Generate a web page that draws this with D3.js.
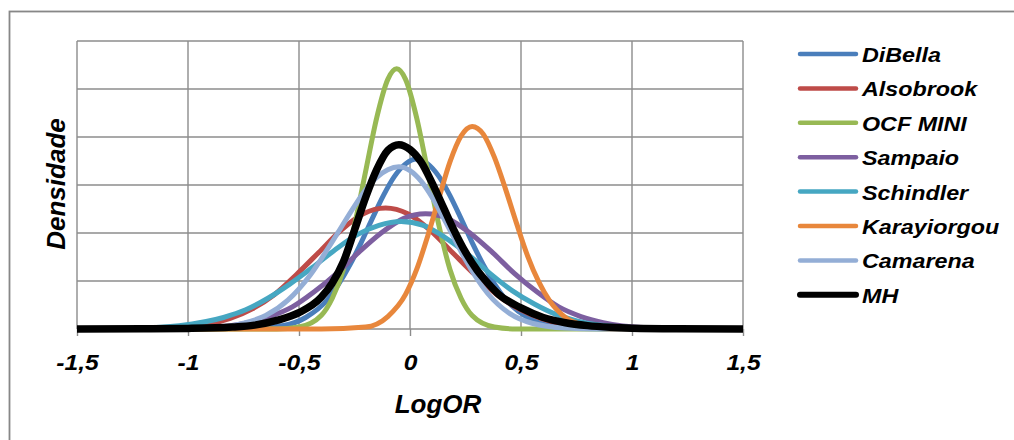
<!DOCTYPE html>
<html>
<head>
<meta charset="utf-8">
<script src="https://cdn.jsdelivr.net/npm/d3@7"></script>
<style>
  body { margin: 0; background: #fff; }
  svg text {
    font-family: "Liberation Sans", Arial, sans-serif;
    font-weight: bold;
    font-style: italic;
    fill: #000;
  }
</style>
</head>
<body>
<svg id="chart" width="1014" height="440"></svg>
<script>
// study names (legend order)
const studies = ["DiBella", "Alsobrook", "OCF MINI", "Sampaio", "Schindler", "Karayiorgou", "Camarena", "MH"];

// density curves: [logOR, density]
const diBella = [[-1.5,0],[-0.9,0],[-0.72,0.004],[-0.57,0.036],[-0.47,0.12],[-0.37,0.31],[-0.27,0.67],[-0.22,0.9],[-0.17,1.15],[-0.12,1.39],[-0.07,1.59],[-0.02,1.72],[0.03,1.77],[0.08,1.72],[0.13,1.59],[0.18,1.39],[0.23,1.15],[0.28,0.9],[0.33,0.67],[0.43,0.31],[0.53,0.12],[0.63,0.036],[0.78,0.004],[0.95,0],[1.5,0]];
const alsobrook = [[-1.5,0],[-1.31,0.001],[-1.11,0.01],[-0.91,0.05],[-0.81,0.11],[-0.71,0.21],[-0.61,0.36],[-0.51,0.57],[-0.41,0.8],[-0.31,1.03],[-0.21,1.2],[-0.11,1.26],[-0.01,1.2],[0.09,1.03],[0.19,0.8],[0.29,0.57],[0.39,0.36],[0.49,0.21],[0.59,0.11],[0.69,0.05],[0.89,0.01],[1.09,0.001],[1.5,0]];
const ocfMini = [[-1.5,0],[-0.6,0],[-0.5,0.02],[-0.4,0.14],[-0.35,0.32],[-0.3,0.62],[-0.25,1.08],[-0.2,1.64],[-0.15,2.2],[-0.1,2.6],[-0.06,2.71],[-0.02,2.6],[0.03,2.2],[0.08,1.64],[0.13,1.08],[0.18,0.62],[0.23,0.32],[0.28,0.14],[0.38,0.02],[0.48,0],[1.5,0]];
const sampaio = [[-1.5,0],[-1.13,0.002],[-0.93,0.013],[-0.73,0.066],[-0.63,0.13],[-0.53,0.23],[-0.43,0.39],[-0.33,0.58],[-0.23,0.8],[-0.13,1.0],[-0.03,1.15],[0.07,1.2],[0.17,1.15],[0.27,1.0],[0.37,0.8],[0.47,0.58],[0.57,0.39],[0.67,0.23],[0.77,0.13],[0.87,0.066],[1.07,0.013],[1.27,0.002],[1.5,0]];
const schindler = [[-1.5,0],[-1.24,0.008],[-1.04,0.035],[-0.84,0.12],[-0.74,0.2],[-0.64,0.32],[-0.54,0.47],[-0.44,0.64],[-0.34,0.82],[-0.24,0.98],[-0.14,1.08],[-0.04,1.12],[0.06,1.08],[0.16,0.95],[0.26,0.78],[0.36,0.58],[0.46,0.4],[0.56,0.26],[0.66,0.15],[0.76,0.08],[0.96,0.02],[1.16,0.003],[1.5,0]];
const karayiorgou = [[-1.5,0],[-0.4,0],[-0.2,0.02],[-0.1,0.13],[-0.02,0.36],[0.03,0.62],[0.08,0.97],[0.13,1.36],[0.18,1.74],[0.23,2.01],[0.28,2.11],[0.33,2.03],[0.38,1.79],[0.43,1.46],[0.48,1.1],[0.53,0.76],[0.58,0.49],[0.63,0.29],[0.7,0.12],[0.8,0.03],[0.9,0],[1.5,0]];
const camarena = [[-1.5,0],[-0.9,0.01],[-0.75,0.06],[-0.65,0.14],[-0.55,0.3],[-0.45,0.56],[-0.35,0.91],[-0.25,1.28],[-0.2,1.45],[-0.15,1.58],[-0.1,1.66],[-0.05,1.69],[0,1.65],[0.05,1.54],[0.1,1.37],[0.15,1.16],[0.2,0.94],[0.25,0.72],[0.35,0.37],[0.45,0.16],[0.55,0.06],[0.7,0.01],[0.85,0],[1.5,0]];
const mh = [[-1.5,0],[-1.2,0.002],[-1.0,0.006],[-0.8,0.02],[-0.7,0.04],[-0.6,0.09],[-0.5,0.17],[-0.4,0.33],[-0.35,0.48],[-0.3,0.7],[-0.25,1.03],[-0.2,1.37],[-0.15,1.66],[-0.1,1.86],[-0.05,1.92],[0,1.87],[0.05,1.74],[0.1,1.52],[0.15,1.27],[0.2,1.02],[0.25,0.8],[0.3,0.62],[0.35,0.48],[0.4,0.36],[0.5,0.22],[0.6,0.12],[0.7,0.065],[0.8,0.035],[0.9,0.018],[1.0,0.008],[1.2,0.002],[1.5,0]];

const curves = [diBella, alsobrook, ocfMini, sampaio, schindler, karayiorgou, camarena, mh];

const xTicks = [-1.5, -1, -0.5, 0, 0.5, 1, 1.5];
const yTicks = [0, 0.5, 1, 1.5, 2, 2.5, 3];
const xTitle = "LogOR";
const yTitle = "Densidade";

// styles
const colors = ["#4a7ebb", "#be4b48", "#98b954", "#7d5fa0", "#46a7c2", "#e8873c", "#94aed6", "#000000"];
const widths = [5, 5, 5, 5, 5, 5, 5, 7.5];
const gridColor = "#8c8c8c";

const plot = { left: 77, top: 41, right: 743, bottom: 329 };

const svg = d3.select("#chart");

// outer chart border
svg.append("rect")
  .attr("x", 9.5)
  .attr("y", 11.5)
  .attr("width", 1020)
  .attr("height", 440)
  .attr("fill", "#fff")
  .attr("stroke", "#878787")
  .attr("stroke-width", 1.8);

const x = d3.scaleLinear().domain([-1.5, 1.5]).range([plot.left, plot.right]);
const y = d3.scaleLinear().domain([0, 3]).range([plot.bottom, plot.top]);

// gridlines
const grid = svg.append("g").attr("class", "grid");
grid.selectAll(".vline")
  .data(xTicks)
  .enter()
  .append("line")
  .attr("x1", (d) => x(d))
  .attr("x2", (d) => x(d))
  .attr("y1", plot.top)
  .attr("y2", plot.bottom)
  .attr("stroke", gridColor)
  .attr("stroke-width", 1.4);
grid.selectAll(".hline")
  .data(yTicks)
  .enter()
  .append("line")
  .attr("x1", plot.left)
  .attr("x2", plot.right)
  .attr("y1", (d) => y(d))
  .attr("y2", (d) => y(d))
  .attr("stroke", gridColor)
  .attr("stroke-width", 1.4);

// x axis
const xAxis = d3.axisBottom(x)
  .tickValues(xTicks)
  .tickSize(7)
  .tickFormat((d) => String(d).replace(".", ","));

const gx = svg.append("g")
  .attr("transform", `translate(0,${plot.bottom})`)
  .call(xAxis);
gx.select(".domain").remove();
gx.selectAll(".tick line").attr("stroke", gridColor).attr("stroke-width", 1.4);
gx.selectAll(".tick text")
  .attr("y", 41)
  .attr("dy", null)
  .attr("font-size", 22)
  .attr("transform", "scale(1.12,1)");

// curves
const line = d3.line()
  .x((d) => x(d[0]))
  .y((d) => y(d[1]))
  .curve(d3.curveMonotoneX);

svg.append("g")
  .selectAll("path")
  .data(curves)
  .enter()
  .append("path")
  .attr("fill", "none")
  .attr("stroke", (d, i) => colors[i])
  .attr("stroke-width", (d, i) => widths[i])
  .attr("stroke-linejoin", "round")
  .attr("d", line);

// axis titles
svg.append("text")
  .attr("x", 438)
  .attr("y", 413)
  .attr("text-anchor", "middle")
  .attr("font-size", 26)
  .text(xTitle);

svg.append("text")
  .attr("transform", "translate(65,184) rotate(-90)")
  .attr("text-anchor", "middle")
  .attr("font-size", 26)
  .text(yTitle);

// legend
const legend = svg.append("g")
  .selectAll("g")
  .data(studies)
  .enter()
  .append("g")
  .attr("transform", (d, i) => `translate(800,${54 + i * 34.4})`);

legend.append("line")
  .attr("x1", 0)
  .attr("x2", 56)
  .attr("stroke", (d, i) => colors[i])
  .attr("stroke-width", (d, i) => (i === 7 ? 6 : 4.5))
  .attr("stroke-linecap", "round");

legend.append("text")
  .attr("transform", "translate(62,8) scale(1.11,1)")
  .attr("font-size", 21)
  .text((d) => d);
</script>
</body>
</html>
